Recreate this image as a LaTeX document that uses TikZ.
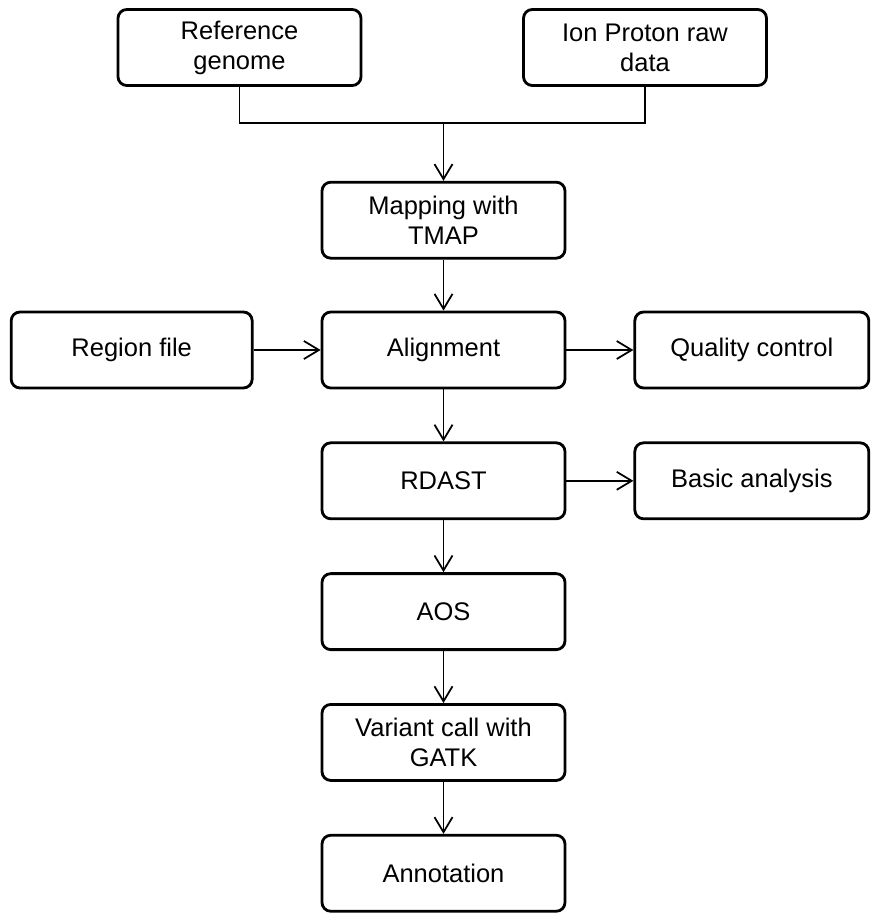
\documentclass[tikz,border=0pt]{standalone}
\usepackage{fontspec}
\setmainfont{Liberation Sans}
\usetikzlibrary{arrows.meta, positioning}
\tikzset{
  every picture/.style={line width=1pt},
  box/.style={draw=black, fill=white, rounded corners=5pt, align=center, line width=1.6pt,
    minimum width=4.86cm, minimum height=1.52cm, inner sep=2pt,
    font=\fontsize{14.5}{17}\selectfont},
  sidebox/.style={box, minimum width=#1},
  sidebox/.default=4.82cm,
  arrow/.style={-{Straight Barb[length=0.3cm, width=0.36cm, line width=1pt]}, draw=black, line width=1pt},
}

\begin{document}
\begin{tikzpicture}[node distance=1.04cm]
  \useasboundingbox (0,0) rectangle (17.4,-18.28);
  \node[box] (ref) at (4.79,-0.95) {Reference\\genome};
  \node[box] (ion) at (12.9,-0.95) {Ion Proton raw\\data};
  \node[box] (align) at (8.87,-7.0) {Alignment};
  \node[box, above=1.02cm of align] (map) {Mapping with\\TMAP};
  \node[sidebox, left=1.34cm of align] (region) {Region file};
  \node[sidebox=4.68cm, right=1.34cm of align] (qc) {Quality control};
  \node[box, below=of align] (rdast) {RDAST};
  \node[sidebox=4.68cm, right=1.34cm of rdast] (basic) {Basic analysis};
  \node[box, below=of rdast] (aos) {AOS};
  \node[box, below=of aos] (gatk) {Variant call with\\GATK};
  \node[box, below=of gatk] (annot) {Annotation};
  % inputs join above the mapping step
  \coordinate (join) at (map.north |- 0,-2.46);
  \draw (ref.south) |- (join) -| (ion.south);
  \draw[arrow] (join) -- (map);
  \draw[arrow] (map) -- (align); \draw[arrow] (region) -- (align); \draw[arrow] (align) -- (qc);
  \draw[arrow] (align) -- (rdast); \draw[arrow] (rdast) -- (basic);
  \draw[arrow] (rdast) -- (aos); \draw[arrow] (aos) -- (gatk); \draw[arrow] (gatk) -- (annot);
\end{tikzpicture}
\end{document}
